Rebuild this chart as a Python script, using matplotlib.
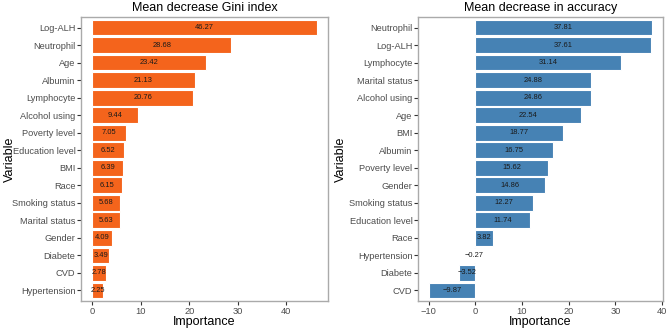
import matplotlib
matplotlib.use('Agg')
import matplotlib.pyplot as plt
import numpy as np

plt.rcParams['font.family'] = ['Liberation Sans', 'DejaVu Sans']

# Mean decrease Gini index (top to bottom)
gini_vars = ['Log-ALH', 'Neutrophil', 'Age', 'Albumin', 'Lymphocyte', 'Alcohol using',
             'Poverty level', 'Education level', 'BMI', 'Race', 'Smoking status',
             'Marital status', 'Gender', 'Diabete', 'CVD', 'Hypertension']
gini_vals = [46.27, 28.68, 23.42, 21.13, 20.76, 9.44, 7.05, 6.52, 6.39, 6.15, 5.68,
             5.63, 4.09, 3.49, 2.78, 2.25]

# Mean decrease in accuracy (top to bottom)
acc_vars = ['Neutrophil', 'Log-ALH', 'Lymphocyte', 'Marital status', 'Alcohol using',
            'Age', 'BMI', 'Albumin', 'Poverty level', 'Gender', 'Smoking status',
            'Education level', 'Race', 'Hypertension', 'Diabete', 'CVD']
acc_vals = [37.81, 37.61, 31.14, 24.88, 24.86, 22.54, 18.77, 16.75, 15.62, 14.86,
            12.27, 11.74, 3.82, -0.27, -3.52, -9.87]

fig = plt.figure(figsize=(6.69, 3.30), dpi=100)
ax1 = fig.add_axes([81/669, 1-301/330, (328-81)/669, (301-17)/330])
ax2 = fig.add_axes([418/669, 1-301/330, (663-418)/669, (301-17)/330])

def fmt(v):
    return ('%.2f' % v).replace('-', '\u2212')

def draw(ax, names, vals, color, title, xticks, ylab_x):
    n = len(names)
    y = np.arange(n)[::-1]
    ax.barh(y, vals, height=0.9, color=color, edgecolor='white', linewidth=0.8)
    for yi, v in zip(y, vals):
        ax.text(v/2, yi, fmt(v), ha='center', va='center', fontsize=5.4,
                color='#1a1a1a')
    ax.set_yticks(y)
    ax.set_yticklabels(names)
    ax.set_ylim(-0.6, n - 0.4)
    lo, hi = min(0, min(vals)), max(vals)
    pad = (hi - lo) * 0.05
    ax.set_xlim(lo - pad, hi + pad)
    ax.set_xticks(xticks)
    ax.set_xticklabels([fmt(t).replace('.00', '') for t in xticks])
    ax.set_title(title, fontsize=9, color='black', pad=4)
    ax.set_xlabel('Importance', fontsize=9, labelpad=0)
    ax.set_ylabel('Variable', fontsize=9)
    ax.yaxis.set_label_coords(ylab_x, 0.5)
    for s in ax.spines.values():
        s.set_color('#aaaaaa')
        s.set_linewidth(1.0)
    ax.tick_params(axis='both', colors='#4d4d4d', labelsize=6.7, length=3,
                   width=0.8, pad=1)
    ax.tick_params(axis='both', color='#333333')

draw(ax1, gini_vars, gini_vals, '#F4641C', 'Mean decrease Gini index',
     [0, 10, 20, 30, 40], (16 - 81) / 247)
draw(ax2, acc_vars, acc_vals, '#4682B4', 'Mean decrease in accuracy',
     [-10, 0, 10, 20, 30, 40], (347 - 418) / 245)

fig.savefig('out.png', dpi=100)
